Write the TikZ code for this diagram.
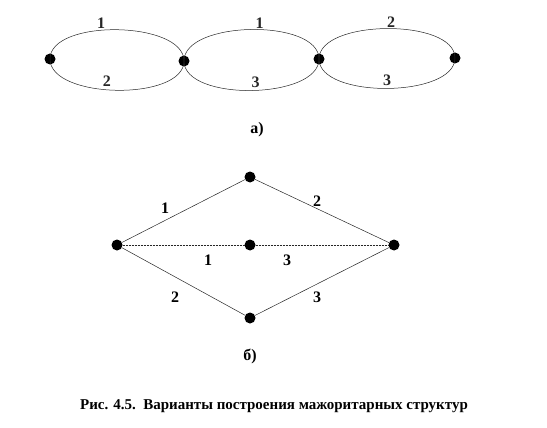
\documentclass[tikz,border=0pt]{standalone}
\usepackage{fontspec}
\setmainfont{Liberation Serif}

\begin{document}
\begin{tikzpicture}[x=1pt, y=1pt, every node/.style={font=\bfseries\fontsize{16}{18}\selectfont, inner sep=1pt},
	vert/.style={circle, fill=black, inner sep=0pt, minimum size=11pt},
	edge/.style={line width=0.5pt, black!85}]
	\useasboundingbox (0,0) rectangle (547,-428);
	% а)
	\node[vert] (a1) at (50,-59) {};
	\node[vert] (a2) at (184,-61) {};
	\node[vert] (a3) at (319,-59) {};
	\node[vert] (a4) at (455,-58) {};
	\draw[edge] (a1.center) to[out=90, in=90, looseness=0.77] node[pos=0.42, above] {1} (a2.center);
	\draw[edge] (a1.center) to[out=-90, in=-90, looseness=0.77] node[pos=0.45, above=2pt] {2} (a2.center);
	\draw[edge] (a2.center) to[out=90, in=90, looseness=0.77] node[pos=0.54, above] {1} (a3.center);
	\draw[edge] (a2.center) to[out=-90, in=-90, looseness=0.77] node[pos=0.52, above=2pt] {3} (a3.center);
	\draw[edge] (a3.center) to[out=90, in=90, looseness=0.75] node[pos=0.52, above] {2} (a4.center);
	\draw[edge] (a3.center) to[out=-90, in=-90, looseness=0.75] node[pos=0.5, above=2pt] {3} (a4.center);
	\node (capa) at (257,-130) {а)};
	% б)
	\node[vert] (b1) at (117,-245) {};
	\node[vert] (b2) at (250,-177) {};
	\node[vert] (b3) at (250,-245) {};
	\node[vert] (b4) at (394,-245) {};
	\node[vert] (b5) at (250,-318) {};
	\draw[edge] (b1) -- (b2);
	\draw[edge] (b2) -- (b4);
	\draw[edge, densely dotted] (b1) -- (b3);
	\draw[edge, densely dotted] (b3) -- (b4);
	\draw[edge] (b1) -- (b5);
	\draw[edge] (b5) -- (b4);
	\node at (165,-208) {1};
	\node at (317,-201) {2};
	\node at (208,-260) {1};
	\node at (287,-260) {3};
	\node at (175,-297) {2};
	\node at (317,-297) {3};
	\node (capb) at (250,-356) {б)};
	\node[font=\bfseries\fontsize{15}{17}\selectfont] (caption) at (274,-406) {Рис. 4.5.\ \ Варианты построения мажоритарных структур};
\end{tikzpicture}
\end{document}
